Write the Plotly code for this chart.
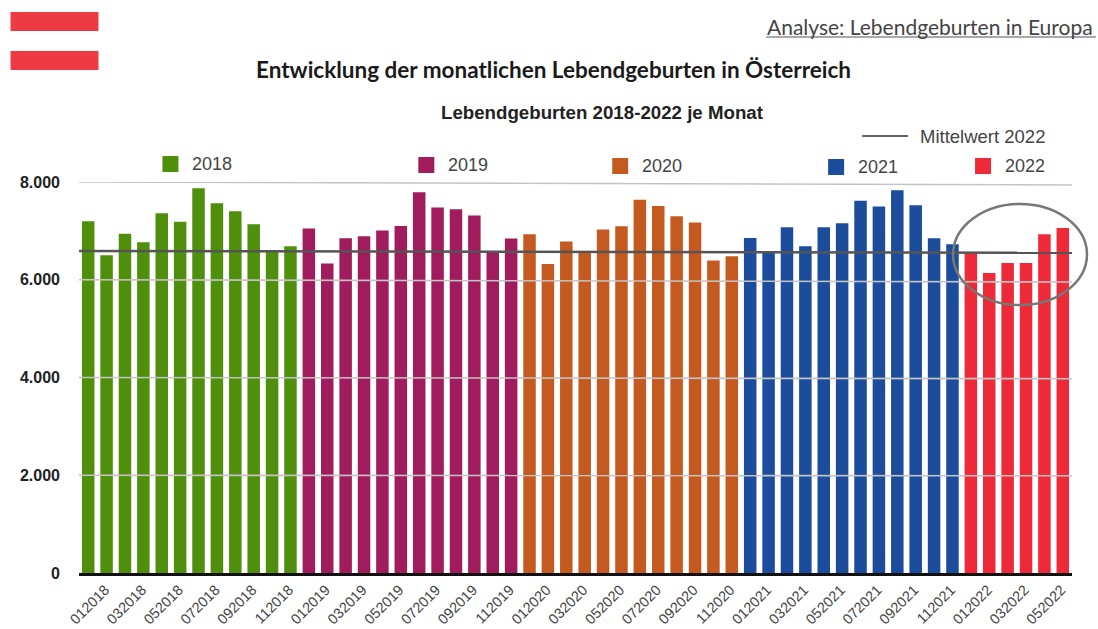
import plotly.graph_objects as go

YEARS = ["2018", "2019", "2020", "2021", "2022"]
COLORS = ["#4f8f0c", "#a01c5c", "#c45a20", "#1c4c9c", "#ee2a38"]
VALUES_2018 = [7198, 6503, 6940, 6765, 7360, 7185, 7870, 7565, 7400, 7135, 6590, 6685]
VALUES_2019 = [7050, 6335, 6850, 6890, 7010, 7100, 7790, 7480, 7440, 7315, 6590, 6845]
VALUES_2020 = [6930, 6320, 6785, 6590, 7030, 7095, 7635, 7510, 7300, 7170, 6395, 6480]
VALUES_2021 = [6855, 6590, 7075, 6685, 7075, 7155, 7615, 7500, 7830, 7525, 6850, 6725]
VALUES_2022 = [6570, 6140, 6345, 6345, 6930, 7060]
MEAN_LEFT = 6590
MEAN_RIGHT = 6550
GRID_LEFT = [2000, 4000, 6000, 8000]
GRID_RIGHT = [1990, 3975, 5954, 7939]
TICKS = [0, 2000, 4000, 6000, 8000]
TICK_TEXT = ["0", "2.000", "4.000", "6.000", "8.000"]
SERIES = [VALUES_2018, VALUES_2019, VALUES_2020, VALUES_2021, VALUES_2022]
LEGEND_X = [162, 418, 612, 828, 975]
LEGEND_Y = [164, 165, 166, 167, 166]

W, H = 1098, 629
L, R, T, B = 78.5, 1072, 182, 573


def px(x):
    return (x - L) / (R - L)


def py(y):
    return (B - y) / (B - T)


months = []
fig = go.Figure()
for year, vals, col in zip(YEARS, SERIES, COLORS):
    cats = [f"{m + 1:02d}{year}" for m in range(len(vals))]
    months += cats
    fig.add_trace(go.Bar(x=cats, y=vals, name=year, marker=dict(color=col, line_width=0), width=0.68))

shapes = []
annotations = []
for g0, g1 in zip(GRID_LEFT, GRID_RIGHT):
    shapes.append(dict(type="line", xref="paper", yref="y", x0=0, x1=1, y0=g0, y1=g1,
                       line=dict(color="#c4c4c4", width=1.6), layer="above"))
shapes.append(dict(type="line", xref="paper", yref="y", x0=0, x1=1, y0=MEAN_LEFT, y1=MEAN_RIGHT,
                   line=dict(color="#555555", width=2.5), layer="above"))
for year, col, lx, ly in zip(YEARS, COLORS, LEGEND_X, LEGEND_Y):
    shapes.append(dict(type="rect", xref="paper", yref="paper", x0=px(lx), x1=px(lx + 16),
                       y0=py(ly + 8), y1=py(ly - 8), fillcolor=col, line_width=0))
    annotations.append(dict(text=year, xref="paper", yref="paper", x=px(lx + 28), y=py(ly), xanchor="left",
                            yanchor="middle", showarrow=False, font=dict(family="Liberation Sans", size=18, color="#444444")))

# Legend entry of the mean line, Austrian flag stripes, highlight ellipse
shapes.append(dict(type="line", xref="paper", yref="paper", x0=px(862), x1=px(908), y0=py(136), y1=py(136),
                   line=dict(color="#666666", width=2)))
shapes.append(dict(type="rect", xref="paper", yref="paper", x0=px(10), x1=px(98), y0=py(31), y1=py(12),
                   fillcolor="#ee3a42", line_width=0))
shapes.append(dict(type="rect", xref="paper", yref="paper", x0=px(10), x1=px(98), y0=py(70), y1=py(51),
                   fillcolor="#ee3a42", line_width=0))
shapes.append(dict(type="circle", xref="paper", yref="paper", x0=px(953), x1=px(1087), y0=py(305), y1=py(204),
                   line=dict(color="#777777", width=2.5), layer="above"))
shapes.append(dict(type="line", xref="paper", yref="paper", x0=px(766), x1=px(1096), y0=py(37), y1=py(37),
                   line=dict(color="#555555", width=1.2)))

annotations += [
    dict(text="Mittelwert 2022", xref="paper", yref="paper", x=px(918), y=py(136), xanchor="left", yanchor="middle",
         showarrow=False, font=dict(family="Liberation Sans", size=18.5, color="#444444")),
    dict(text="<b>Lebendgeburten 2018-2022 je Monat</b>", xref="paper", yref="paper", x=px(602), y=py(113),
         xanchor="center", yanchor="middle", showarrow=False, font=dict(family="Liberation Sans", size=18.7, color="#222222")),
    dict(text="<b>Entwicklung der monatlichen Lebendgeburten in Österreich</b>", xref="paper", yref="paper",
         x=px(553), y=py(69), xanchor="center", yanchor="middle", showarrow=False,
         font=dict(family="Lato", size=22.5, color="#1a1a1a")),
    dict(text="Analyse: Lebendgeburten in Europa", xref="paper", yref="paper", x=px(1095), y=py(27), xanchor="right",
         yanchor="middle", showarrow=False, font=dict(family="Lato", size=21, color="#444444")),
]

fig.update_layout(
    width=W, height=H, autosize=False,
    margin=dict(l=L, r=W - R, t=T, b=H - B),
    paper_bgcolor="white", plot_bgcolor="white", showlegend=False, barmode="overlay",
    shapes=shapes, annotations=annotations,
    xaxis=dict(categoryorder="array", categoryarray=months, range=[-0.5, len(months) - 0.5],
               tickmode="array", tickvals=months[::2], ticktext=months[::2], tickangle=-45, ticks="",
               ticklabelshift=17, ticklabelstandoff=0, automargin=False,
               tickfont=dict(family="Liberation Sans", size=14.5, color="#444444"),
               showline=True, linecolor="#111111", linewidth=2.5, showgrid=False, zeroline=False),
    yaxis=dict(range=[0, 8000], tickmode="array", tickvals=TICKS, ticktext=TICK_TEXT, showgrid=False,
               zeroline=False, showline=False, ticks="", ticklabelstandoff=18, automargin=False,
               tickfont=dict(family="Liberation Sans", size=16, color="#222222", weight="bold")),
)
fig.write_html("out.html", config=dict(displayModeBar=False),
               post_script="document.body.style.margin='0';document.documentElement.style.overflow='hidden';")
